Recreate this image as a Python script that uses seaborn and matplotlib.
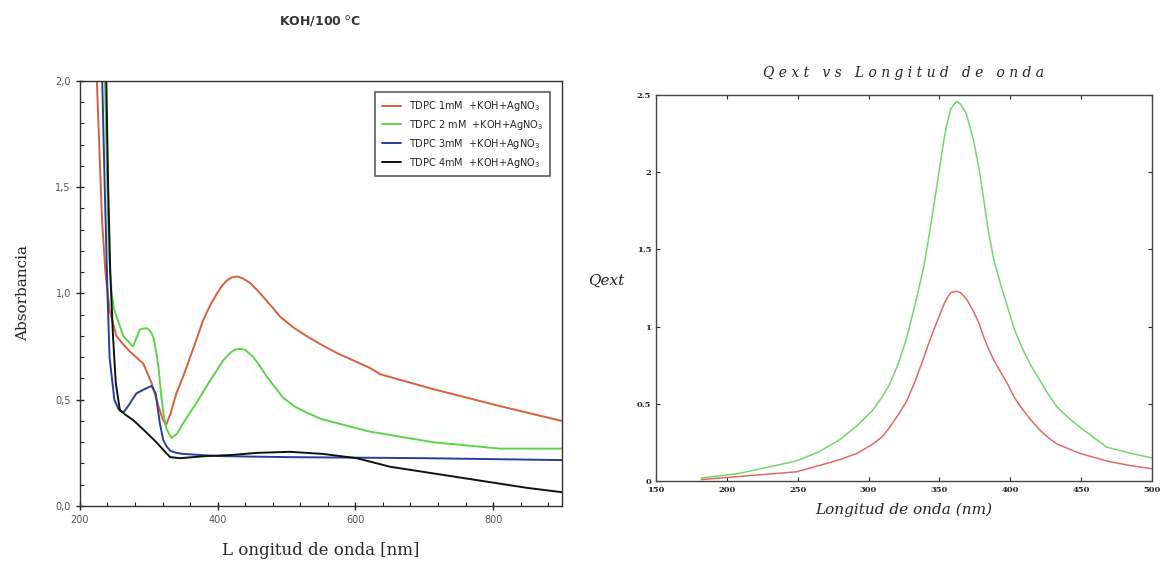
import numpy as np
import pandas as pd
import seaborn as sns
import matplotlib
matplotlib.use('Agg')
import matplotlib.pyplot as plt
from matplotlib.ticker import MultipleLocator, FuncFormatter

# left panel: absorbance spectra
red_x = [224, 228, 232, 237, 243, 253, 263, 273, 292, 304, 314, 320, 325, 332, 340, 350, 360, 370, 379, 390, 399,
         406, 413, 420, 428, 437, 447, 456, 466, 478, 491, 510, 529, 550, 573, 621, 636, 713, 810, 900]
red_y = [2.05, 1.7, 1.35, 1.1, 0.92, 0.80, 0.76, 0.725, 0.67, 0.58, 0.47, 0.41, 0.38, 0.44, 0.53, 0.61, 0.70, 0.79, 0.875,
         0.95, 1.0, 1.035, 1.06, 1.075, 1.08, 1.07, 1.05, 1.02, 0.985, 0.94, 0.89, 0.84, 0.80, 0.76, 0.72, 0.65, 0.62,
         0.55, 0.47, 0.40]

green_x = [236, 239, 242, 246, 250, 263, 277, 282, 287, 292, 298, 303, 307, 311, 314, 318, 322, 326, 333, 341, 350,
           362, 374, 386, 399, 408, 418, 425, 432, 440, 452, 462, 471, 483, 495, 511, 529, 550, 573, 621, 713, 810, 900]
green_y = [2.05, 1.6, 1.2, 1.0, 0.92, 0.80, 0.75, 0.79, 0.83, 0.835, 0.836, 0.82, 0.79, 0.72, 0.655, 0.52, 0.42, 0.36, 0.32,
           0.34, 0.39, 0.45, 0.51, 0.575, 0.64, 0.685, 0.72, 0.735, 0.74, 0.735, 0.70, 0.655, 0.61, 0.56, 0.51, 0.47,
           0.44, 0.41, 0.39, 0.35, 0.30, 0.27, 0.27]

blue_x = [232, 236, 240, 243, 250, 256, 263, 270, 282, 294, 304, 310, 316, 321, 326, 331, 340, 350, 400, 500, 700, 900]
blue_y = [2.05, 1.5, 1.0, 0.70, 0.50, 0.455, 0.44, 0.47, 0.53, 0.55, 0.565, 0.53, 0.39, 0.31, 0.28, 0.26, 0.25, 0.245,
          0.235, 0.23, 0.225, 0.216]

black_x = [238, 241, 244, 248, 252, 258, 268, 277, 292, 311, 325, 331, 345, 384, 420, 457, 505, 553, 602, 650, 700,
           750, 800, 850, 900]
black_y = [2.05, 1.5, 1.1, 0.80, 0.58, 0.45, 0.425, 0.405, 0.36, 0.30, 0.25, 0.23, 0.225, 0.235, 0.24, 0.25, 0.255,
           0.245, 0.225, 0.185, 0.16, 0.135, 0.11, 0.085, 0.065]

left_labels = ['TDPC 1mM  +KOH+AgNO$_3$', 'TDPC 2 mM  +KOH+AgNO$_3$',
               'TDPC 3mM  +KOH+AgNO$_3$', 'TDPC 4mM  +KOH+AgNO$_3$']

# right panel: Qext
q_x = [182, 209, 249, 265, 280, 292, 303, 310, 315, 321, 327, 333, 339, 342, 346, 350, 353, 355, 358, 362, 365,
       369, 371, 374, 378, 381, 384, 388, 393, 398, 403, 409, 415, 421, 427, 433, 441, 449, 468, 485, 500]
q_green = [0.02, 0.05, 0.13, 0.19, 0.27, 0.36, 0.46, 0.55, 0.63, 0.76, 0.93, 1.15, 1.39, 1.55, 1.78, 2.02, 2.20, 2.30,
           2.41, 2.46, 2.44, 2.38, 2.31, 2.21, 2.02, 1.84, 1.65, 1.45, 1.28, 1.13, 0.98, 0.85, 0.74, 0.65, 0.56, 0.48,
           0.41, 0.35, 0.22, 0.18, 0.15]
q_red = [0.01, 0.03, 0.06, 0.10, 0.14, 0.18, 0.24, 0.29, 0.35, 0.43, 0.52, 0.65, 0.80, 0.88, 0.98, 1.07, 1.14, 1.18,
         1.22, 1.23, 1.22, 1.18, 1.15, 1.10, 1.02, 0.94, 0.87, 0.79, 0.71, 0.63, 0.54, 0.46, 0.39, 0.33, 0.28, 0.24,
         0.21, 0.18, 0.13, 0.10, 0.08]

sns.set_theme(style='white')
plt.rcParams['font.family'] = ['DejaVu Sans']

fig = plt.figure(figsize=(11.62, 5.66), dpi=100)
ax1 = fig.add_axes([0.0688, 0.106, 0.4148, 0.751])
ax2 = fig.add_axes([0.5645, 0.150, 0.4269, 0.682])

left_series = [(red_x, red_y, '#d8603c'), (green_x, green_y, '#5fd24c'),
               (blue_x, blue_y, '#2b3c9c'), (black_x, black_y, '#111111')]
for (xs, ys, c), lab in zip(left_series, left_labels):
    df = pd.DataFrame({'x': xs, 'y': ys})
    sns.lineplot(data=df, x='x', y='y', ax=ax1, color=c, lw=1.4, label=lab, sort=False)

ax1.set_xlim(200, 900)
ax1.set_ylim(0, 2.0)
ax1.xaxis.set_major_locator(MultipleLocator(200))
ax1.xaxis.set_minor_locator(MultipleLocator(40))
ax1.yaxis.set_major_locator(MultipleLocator(0.5))
ax1.yaxis.set_minor_locator(MultipleLocator(0.1))
ax1.yaxis.set_major_formatter(FuncFormatter(lambda v, p: f'{v:.1f}'.replace('.', ',')))
ax1.tick_params(which='major', direction='inout', length=6, width=1, labelsize=7, colors='#222222', labelcolor='#555555')
ax1.tick_params(which='minor', direction='in', length=3, width=0.8)
ax1.tick_params(bottom=True, left=True, which='both')
for s in ax1.spines.values():
    s.set_color('#333333')
    s.set_linewidth(1.0)
ax1.set_xlabel('L ongitud de onda [nm]', family='DejaVu Serif', fontsize=12, labelpad=12)
ax1.set_ylabel('Absorbancia', family='DejaVu Serif', fontsize=11, labelpad=18)
leg = ax1.legend(loc='upper right', bbox_to_anchor=(0.985, 0.985), fontsize=7, frameon=True,
                 fancybox=False, edgecolor='#333333', handlelength=2.0, borderpad=0.7, labelspacing=0.5)
leg.get_frame().set_linewidth(1.2)

sns.lineplot(x=q_x, y=q_green, ax=ax2, color='#72d86a', lw=1.1)
sns.lineplot(x=q_x, y=q_red, ax=ax2, color='#e06a66', lw=1.1)
ax2.set_xlim(150, 500)
ax2.set_ylim(0, 2.5)
ax2.xaxis.set_major_locator(MultipleLocator(50))
ax2.yaxis.set_major_locator(MultipleLocator(0.5))
ax2.yaxis.set_major_formatter(FuncFormatter(lambda v, p: f'{v:g}'))
ax2.tick_params(direction='in', length=3, width=0.8, labelsize=6, top=True, right=True, bottom=True, left=True)
for lab in ax2.get_xticklabels() + ax2.get_yticklabels():
    lab.set_family('DejaVu Serif')
    lab.set_fontweight('bold')
for s in ax2.spines.values():
    s.set_color('#444444')
    s.set_linewidth(1.0)
ax2.set_title('Q e x t   v s   L o n g i t u d   d e   o n d a', family='DejaVu Serif',
              style='italic', fontsize=10, pad=13)
ax2.set_xlabel('Longitud de onda (nm)', family='DejaVu Serif', style='italic', fontsize=11, labelpad=6)
ax2.set_ylabel('Qext', family='DejaVu Serif', style='italic', fontsize=11, rotation=0, labelpad=22)

fig.text(320 / 1162, 1 - 22 / 566, 'KOH/100 $^{\\mathrm{o}}$C', ha='center', va='center',
         fontsize=9, fontweight='bold', color='#333333')

fig.savefig('out.png', dpi=100)
